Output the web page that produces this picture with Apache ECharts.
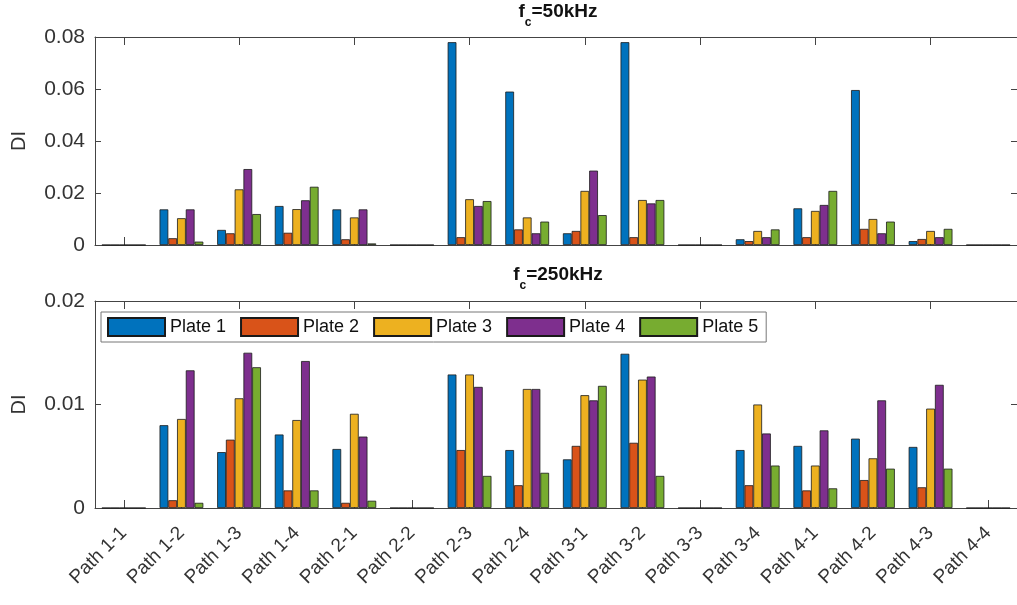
<!DOCTYPE html>
<html>
<head>
<meta charset="utf-8">
<script src="https://cdn.jsdelivr.net/npm/echarts@6/dist/echarts.min.js"></script>
<style>html,body{margin:0;padding:0;background:#fff;}#c{width:1017px;height:605px;}</style>
</head>
<body>
<div id="c"></div>
<script>
var categories = ['Path 1-1','Path 1-2','Path 1-3','Path 1-4','Path 2-1','Path 2-2','Path 2-3','Path 2-4','Path 3-1','Path 3-2','Path 3-3','Path 3-4','Path 4-1','Path 4-2','Path 4-3','Path 4-4'];
var plateNames = ['Plate 1','Plate 2','Plate 3','Plate 4','Plate 5'];

// fc = 50 kHz
var plate1_50 = [0, 0.0137, 0.0058, 0.0150, 0.0137, 0, 0.0780, 0.0590, 0.0045, 0.0780, 0, 0.0022, 0.0141, 0.0596, 0.0015, 0];
var plate2_50 = [0, 0.0026, 0.0045, 0.0047, 0.0022, 0, 0.0030, 0.0060, 0.0054, 0.0030, 0, 0.0015, 0.0030, 0.0062, 0.0023, 0];
var plate3_50 = [0, 0.0103, 0.0214, 0.0138, 0.0106, 0, 0.0176, 0.0106, 0.0208, 0.0173, 0, 0.0054, 0.0131, 0.0100, 0.0054, 0];
var plate4_50 = [0, 0.0137, 0.0292, 0.0172, 0.0137, 0, 0.0150, 0.0045, 0.0286, 0.0160, 0, 0.0030, 0.0154, 0.0045, 0.0030, 0];
var plate5_50 = [0, 0.0013, 0.0119, 0.0224, 0.0006, 0, 0.0169, 0.0090, 0.0115, 0.0173, 0, 0.0060, 0.0208, 0.0090, 0.0062, 0];

// fc = 250 kHz
var plate1_250 = [0, 0.0080, 0.0054, 0.0071, 0.0057, 0, 0.0129, 0.0056, 0.0047, 0.0149, 0, 0.0056, 0.0060, 0.0067, 0.0059, 0];
var plate2_250 = [0, 0.00075, 0.0066, 0.0017, 0.0005, 0, 0.0056, 0.0022, 0.0060, 0.0063, 0, 0.0022, 0.0017, 0.0027, 0.0020, 0];
var plate3_250 = [0, 0.0086, 0.0106, 0.0085, 0.0091, 0, 0.0129, 0.0115, 0.0109, 0.0124, 0, 0.0100, 0.0041, 0.0048, 0.0096, 0];
var plate4_250 = [0, 0.0133, 0.0150, 0.0142, 0.0069, 0, 0.0117, 0.0115, 0.0104, 0.0127, 0, 0.0072, 0.0075, 0.0104, 0.0119, 0];
var plate5_250 = [0, 0.0005, 0.0136, 0.0017, 0.0007, 0, 0.0031, 0.0034, 0.0118, 0.0031, 0, 0.0041, 0.0019, 0.0038, 0.0038, 0];

var yTicksTop = [0, 0.02, 0.04, 0.06, 0.08];
var yTicksBottom = [0, 0.01, 0.02];

var colors = ['#0072BD','#D95319','#EDB120','#7E2F8E','#77AC30'];
var FONT = "'Liberation Sans', Arial, Helvetica, sans-serif";
var AX = '#444';

var data50 = [plate1_50, plate2_50, plate3_50, plate4_50, plate5_50];
var data250 = [plate1_250, plate2_250, plate3_250, plate4_250, plate5_250];

function fmt(v) { return v === 0 ? '0' : v.toFixed(2); }

function xAxes(gi, showLabels) {
  return [{
    type: 'category', gridIndex: gi, data: categories, position: 'bottom',
    axisLine: { show: true, onZero: false, lineStyle: { color: AX, width: 1 } },
    axisTick: { show: true, inside: true, length: 8, alignWithLabel: true, lineStyle: { color: AX } },
    axisLabel: showLabels ? { show: true, rotate: 45, margin: 22, fontSize: 19, color: '#333', fontFamily: FONT, interval: 0 } : { show: false },
    splitLine: { show: false }
  }, {
    type: 'category', gridIndex: gi, data: categories, position: 'top',
    axisLine: { show: true, onZero: false, lineStyle: { color: AX, width: 1 } },
    axisTick: { show: true, inside: true, length: 8, alignWithLabel: true, lineStyle: { color: AX } },
    axisLabel: { show: false }, splitLine: { show: false }
  }];
}
function yAxes(gi, max, interval) {
  return [{
    type: 'value', gridIndex: gi, min: 0, max: max, interval: interval, position: 'left',
    name: 'DI', nameLocation: 'middle', nameGap: 66, nameRotate: 90,
    nameTextStyle: { fontSize: 20, color: '#333', fontFamily: FONT },
    axisLine: { show: true, onZero: false, lineStyle: { color: AX, width: 1 } },
    axisTick: { show: true, inside: true, length: 6, lineStyle: { color: AX } },
    axisLabel: { show: true, margin: 10, fontSize: 21, color: '#333', fontFamily: FONT, formatter: fmt },
    splitLine: { show: false }
  }, {
    type: 'value', gridIndex: gi, min: 0, max: max, interval: interval, position: 'right',
    axisLine: { show: true, onZero: false, lineStyle: { color: AX, width: 1 } },
    axisTick: { show: true, inside: true, length: 6, lineStyle: { color: AX } },
    axisLabel: { show: false }, splitLine: { show: false }
  }];
}

var series = [];
function addSeries(arrs, xi, yi) {
  arrs.forEach(function (arr, i) {
    series.push({
      name: plateNames[i], type: 'bar', xAxisIndex: xi, yAxisIndex: yi,
      data: arr, barWidth: '15.2%', barGap: '0%',
      itemStyle: { color: colors[i], borderColor: '#1a1a1a', borderWidth: 0.8 },
      emphasis: { disabled: true }, animation: false
    });
  });
}
addSeries(data50, 0, 0);
addSeries(data250, 2, 2);

var titleRich = {
  f: { fontSize: 19, fontWeight: 'bold', color: '#111', fontFamily: FONT, verticalAlign: 'top', lineHeight: 20 },
  c: { fontSize: 12, fontWeight: 'bold', color: '#111', fontFamily: FONT, verticalAlign: 'bottom', lineHeight: 27 }
};

var option = {
  backgroundColor: '#fff',
  animation: false,
  title: [
    { text: '{f|f}{c|c}{f|=50kHz}', left: 558, top: 2, textAlign: 'center', padding: 0, textStyle: { rich: titleRich } },
    { text: '{f|f}{c|c}{f|=250kHz}', left: 558, top: 265, textAlign: 'center', padding: 0, textStyle: { rich: titleRich } }
  ],
  legend: {
    data: plateNames, left: 101, top: 312, orient: 'horizontal',
    itemWidth: 57, itemHeight: 18, itemGap: 14, icon: 'rect',
    padding: [5, 8, 5, 6], borderColor: '#777', borderWidth: 1, backgroundColor: '#fff',
    textStyle: { fontSize: 18, color: '#111', fontFamily: FONT },
    selectedMode: false
  },
  grid: [
    { left: 95, right: -5, top: 37, height: 208, containLabel: false },
    { left: 95, right: -5, top: 301, height: 207, containLabel: false }
  ],
  xAxis: xAxes(0, false).concat(xAxes(1, true)),
  yAxis: yAxes(0, yTicksTop[yTicksTop.length - 1], yTicksTop[1]).concat(yAxes(1, yTicksBottom[yTicksBottom.length - 1], yTicksBottom[1])),
  series: series
};

var chart = echarts.init(document.getElementById('c'), null, { renderer: 'canvas' });
chart.setOption(option);
</script>
</body>
</html>
